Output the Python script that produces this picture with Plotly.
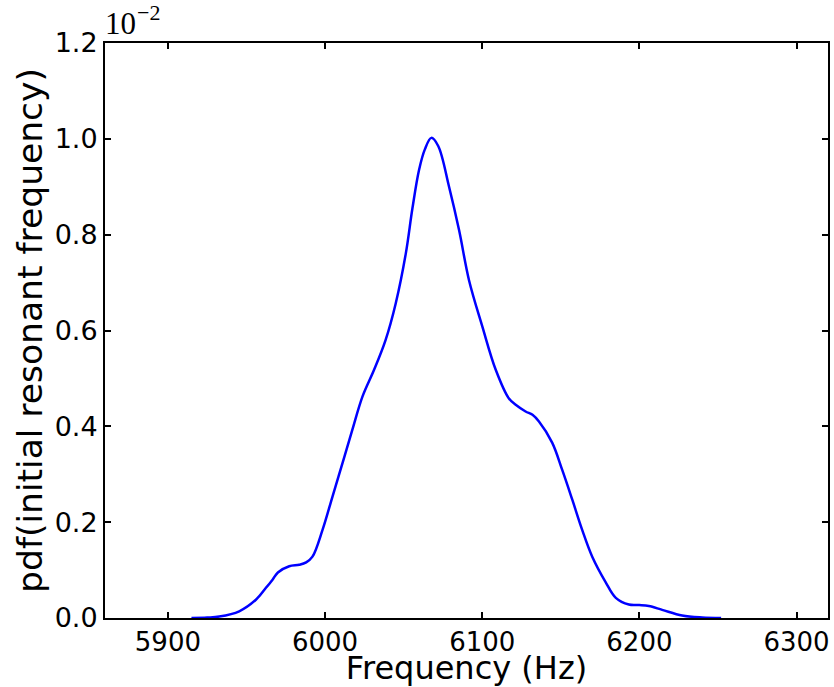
import plotly.graph_objects as go

# Frequency (Hz) and pdf values (in units of 1e-2)
freq_hz = [5915, 5925, 5932.7, 5945.4, 5956.0, 5962.4, 5966.6, 5970.0, 5977.2, 5983.6,
           5988.0, 5992.0, 5998.4, 6004.7, 6011.1, 6017.4, 6023.8, 6031.2, 6038.5, 6045.0,
           6051.4, 6055.6, 6059.8, 6063.5, 6067.6, 6072.0, 6078.9, 6085.3, 6091.6, 6100.1,
           6108.6, 6117.0, 6121.3, 6127.6, 6132.0, 6136.1, 6144.5, 6150.9, 6157.3,
           6163.6, 6170.0, 6178.5, 6185.0, 6193.3, 6200.0, 6206.0, 6214.5, 6227.2, 6240.0,
           6252.0]
pdf_e2 = [0.000, 0.001, 0.003, 0.014, 0.038, 0.063, 0.080, 0.095, 0.108, 0.111,
          0.116, 0.128, 0.184, 0.253, 0.323, 0.393, 0.462, 0.518, 0.580, 0.657,
          0.761, 0.855, 0.935, 0.978, 1.002, 0.985, 0.900, 0.809, 0.705, 0.608,
          0.518, 0.458, 0.445, 0.431, 0.424, 0.410, 0.366, 0.309, 0.247,
          0.184, 0.128, 0.075, 0.042, 0.028, 0.027, 0.025, 0.017, 0.005, 0.001,
          0.000]

x_ticks = [5900, 6000, 6100, 6200, 6300]
y_ticks = [0.0, 0.2, 0.4, 0.6, 0.8, 1.0, 1.2]

fig = go.Figure()
fig.add_trace(go.Scatter(x=freq_hz, y=pdf_e2, mode="lines",
                         line=dict(color="#0000ff", width=2.5, shape="spline", smoothing=1.0),
                         showlegend=False, hoverinfo="x+y"))

axis_common = dict(showline=True, linecolor="black", linewidth=2, mirror="ticks",
                   ticks="inside", ticklen=6, tickwidth=1.5, tickcolor="black",
                   showgrid=False, zeroline=False)

fig.update_layout(
    width=834, height=687,
    margin=dict(l=105, r=4, t=43, b=69),
    paper_bgcolor="white", plot_bgcolor="white",
    font=dict(family="DejaVu Sans", color="black"),
    xaxis=dict(range=[5860, 6320], tickvals=x_ticks, ticktext=[str(v) for v in x_ticks],
               tickfont=dict(size=26, family="DejaVu Sans"),
               title=dict(text="Frequency (Hz)", font=dict(size=32, family="DejaVu Sans"), standoff=0),
               **axis_common),
    yaxis=dict(range=[0, 1.2], tickvals=y_ticks, ticktext=["%.1f" % v for v in y_ticks],
               tickfont=dict(size=27, family="DejaVu Sans"),
               title=dict(text="pdf(initial resonant frequency)", font=dict(size=34.5, family="DejaVu Sans"), standoff=2),
               **axis_common),
    annotations=[
        dict(text="10", xref="paper", yref="paper", x=0, y=1,
             xanchor="left", yanchor="bottom", showarrow=False, xshift=-2, yshift=0,
             font=dict(size=31, family="Liberation Serif", color="black")),
        dict(text="−2", xref="paper", yref="paper", x=0, y=1,
             xanchor="left", yanchor="bottom", showarrow=False, xshift=30, yshift=16,
             font=dict(size=22, family="Liberation Serif", color="black")),
    ],
)

fig.write_html("out.html")
